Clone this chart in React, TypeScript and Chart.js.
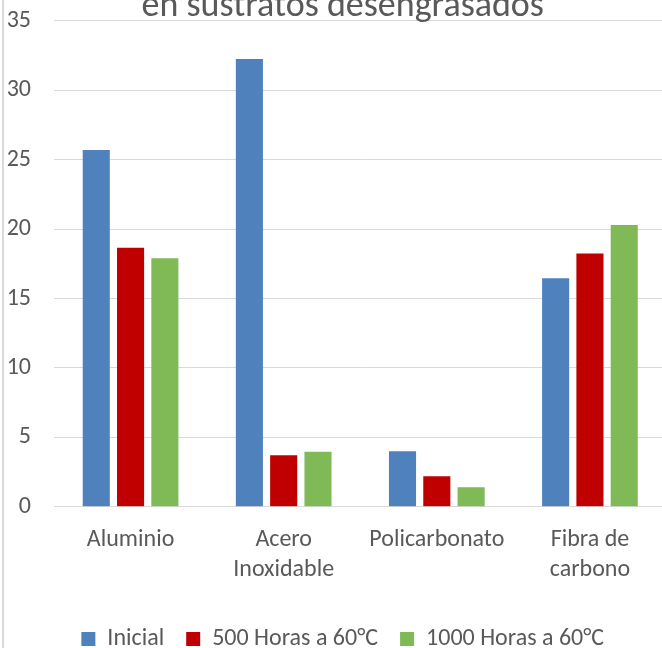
import React, { useEffect, useRef } from "react";
import { Chart, registerables } from "chart.js";

Chart.register(...registerables);

const categories: (string | string[])[] = [
  "Aluminio",
  ["Acero", "Inoxidable"],
  "Policarbonato",
  ["Fibra de", "carbono"],
];
const seriesNames = ["Inicial", "500 Horas a 60°C", "1000 Horas a 60°C"];
const inicial = [25.7, 32.25, 4.0, 16.45];
const horas500 = [18.65, 3.7, 2.2, 18.25];
const horas1000 = [17.9, 3.95, 1.4, 20.3];
const titleText = "en sustratos desengrasados";

const FONT = "Carlito, Calibri, Lato, 'Open Sans', sans-serif";
const TEXT = "#595959";

export default function App() {
  const ref = useRef<HTMLCanvasElement | null>(null);

  useEffect(() => {
    if (!ref.current) return;
    const chart = new Chart(ref.current, {
      type: "bar",
      data: {
        labels: categories as any,
        datasets: [
          { label: seriesNames[0], data: inicial, backgroundColor: "#4f81bd", borderWidth: 0 },
          { label: seriesNames[1], data: horas500, backgroundColor: "#c00000", borderWidth: 0 },
          { label: seriesNames[2], data: horas1000, backgroundColor: "#7fba57", borderWidth: 0 },
        ],
      },
      options: {
        responsive: false,
        animation: false,
        devicePixelRatio: 1,
        datasets: { bar: { categoryPercentage: 0.672, barPercentage: 0.79 } },
        layout: { padding: { left: 4, right: 8.5, top: 0, bottom: 0 } },
        plugins: {
          tooltip: { enabled: false },
          title: {
            display: true,
            text: titleText,
            color: TEXT,
            font: { family: FONT, size: 36, weight: "normal", lineHeight: 0.78 },
            padding: { top: 32.66, bottom: 0.16 },
          },
          legend: {
            position: "bottom",
            labels: {
              color: TEXT,
              font: { family: FONT, size: 24 },
              boxWidth: 14,
              boxHeight: 14,
              padding: 22,
            },
          },
        },
        scales: {
          x: {
            grid: { display: false, drawTicks: false },
            border: { display: false },
            ticks: {
              color: TEXT,
              font: { family: FONT, size: 24, lineHeight: 1.25 },
              padding: 18.3,
              maxRotation: 0,
              autoSkip: false,
            },
            afterFit: (s: any) => {
              s.height = 98.3;
            },
          },
          y: {
            min: 0,
            max: 35,
            grid: { color: "#d9d9d9", lineWidth: 1, drawTicks: false },
            border: { display: false },
            ticks: {
              stepSize: 5,
              color: TEXT,
              font: { family: FONT, size: 24 },
              padding: 23,
            },
            afterFit: (s: any) => {
              s.width = 50;
            },
          },
          yRight: {
            position: "right",
            display: true,
            grid: { display: false, drawTicks: false },
            border: { display: false },
            ticks: { display: false },
            afterFit: (s: any) => {
              s.width = 15;
            },
          },
        },
      },
    });
    return () => chart.destroy();
  }, []);

  return (
    <div
      style={{
        position: "fixed",
        left: 0,
        top: 0,
        width: 662,
        height: 648,
        overflow: "hidden",
        background: "#fff",
      }}
    >
      <div style={{ position: "absolute", left: 0, top: -40, width: 690, height: 701 }}>
        <canvas ref={ref} width={690} height={701} style={{ width: 690, height: 701, display: "block" }} />
      </div>
      <div
        style={{
          position: "absolute",
          left: 2,
          top: 0,
          width: 2,
          height: 648,
          background: "#d9d9d9",
        }}
      />
    </div>
  );
}
